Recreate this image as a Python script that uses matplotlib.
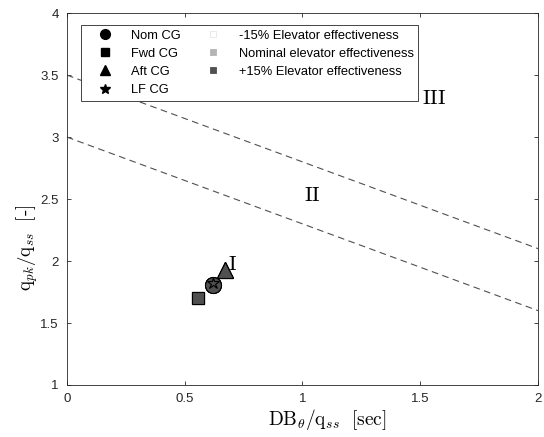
import numpy as np
import matplotlib.pyplot as plt
from matplotlib.lines import Line2D

plt.rcParams['mathtext.fontset'] = 'cm'
plt.rcParams['font.family'] = ['Liberation Sans', 'DejaVu Sans']

# level boundaries (DB/qss vs qpk/qss)
bound_x = np.array([0.0, 2.0])
bound_II = np.array([3.0, 1.6])
bound_III = np.array([3.5, 2.1])

# points per CG, one value per elevator effectiveness (-15%, nominal, +15%)
cg_names = ['Nom CG', 'Fwd CG', 'Aft CG', 'LF CG']
cg_markers = ['o', 's', '^', '*']
cg_sizes = [11.5, 8.5, 11.5, 9]
db_vals = {
    'Nom CG': [0.62, 0.62, 0.62],
    'Fwd CG': [0.555, 0.555, 0.555],
    'Aft CG': [0.67, 0.67, 0.67],
    'LF CG': [0.62, 0.62, 0.62],
}
q_vals = {
    'Nom CG': [1.81, 1.81, 1.81],
    'Fwd CG': [1.70, 1.70, 1.70],
    'Aft CG': [1.93, 1.93, 1.93],
    'LF CG': [1.82, 1.82, 1.82],
}
eff_names = ['-15% Elevator effectiveness', 'Nominal elevator effectiveness',
             '+15% Elevator effectiveness']
eff_colors = ['white', '#b4b4b4', '#505050']

level_labels = ['I', 'II', 'III']
level_x = [0.705, 1.04, 1.56]
level_y = [1.97, 2.53, 3.31]

fig = plt.figure(figsize=(5.44, 4.37), dpi=100)
ax = fig.add_axes([0.123, 0.119, 0.866, 0.851])

ax.plot(bound_x, bound_II, '--', color='#505050', lw=0.8, dashes=(6, 4))
ax.plot(bound_x, bound_III, '--', color='#505050', lw=0.8, dashes=(6, 4))

for j, col in enumerate(eff_colors):
    for name, m, ms in zip(cg_names, cg_markers, cg_sizes):
        ax.plot(db_vals[name][j], q_vals[name][j], marker=m, ms=ms,
                mfc=col, mec='black', mew=0.8, ls='none')

for lab, tx, ty in zip(level_labels, level_x, level_y):
    ax.text(tx, ty, r'$\mathrm{' + lab + '}$', fontsize=15, ha='center', va='center')

ax.set_xlim(0, 2)
ax.set_ylim(1, 4)
ax.set_xticks([0, 0.5, 1, 1.5, 2])
ax.set_xticklabels(['0', '0.5', '1', '1.5', '2'])
ax.set_yticks([1, 1.5, 2, 2.5, 3, 3.5, 4])
ax.set_yticklabels(['1', '1.5', '2', '2.5', '3', '3.5', '4'])
ax.tick_params(direction='in', top=True, right=True, length=3, width=0.6,
               colors='#262626', labelsize=9.5, pad=6)
for s in ax.spines.values():
    s.set_color('#262626')
    s.set_linewidth(0.6)

ax.set_xlabel(r'$\mathrm{DB}_{\theta}/\mathrm{q}_{ss}\ \ [\mathrm{sec}]$', fontsize=14, va='center')
ax.set_ylabel(r'$\mathrm{q}_{pk}/\mathrm{q}_{ss}\ \ [\text{-}]$', fontsize=13.5, va='center',
              family=['Liberation Serif', 'DejaVu Serif'])
ax.xaxis.set_label_coords(0.552, -0.094)
ax.yaxis.set_label_coords(-0.085, 0.368)

handles = []
for m, ms in zip(cg_markers, [7, 6, 7, 7]):
    handles.append(Line2D([], [], marker=m, ms=ms, color='black', ls='none'))
for col in eff_colors:
    handles.append(Line2D([], [], marker='s', ms=5, mfc=col,
                          mec='#e6e6e6' if col == 'white' else col, mew=0.6, ls='none'))
handles.append(Line2D([], [], ls='none'))
labels = cg_names + eff_names + ['']
leg = ax.legend(handles, labels, ncol=2, loc='upper left',
                bbox_to_anchor=(0.0297, 0.968), borderaxespad=0, fontsize=9.3,
                frameon=True, fancybox=False, edgecolor='#262626', framealpha=1,
                handlelength=3.0, columnspacing=1.0, handletextpad=0.5,
                labelspacing=0.47, borderpad=0.36)
leg.get_frame().set_linewidth(0.6)

fig.savefig('out.png', dpi=100)
